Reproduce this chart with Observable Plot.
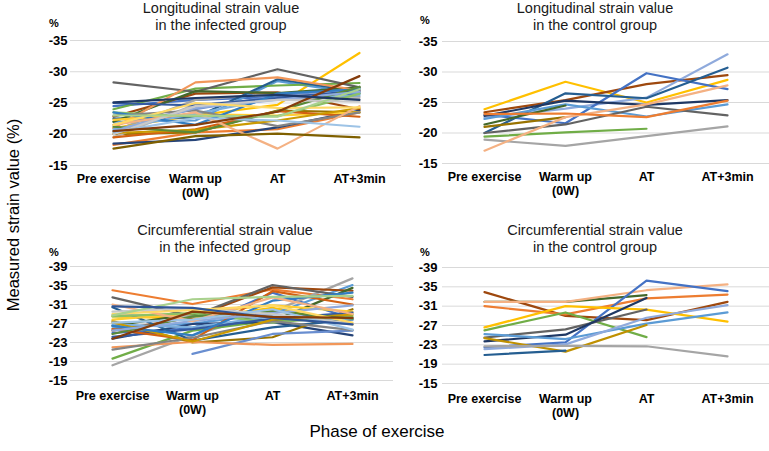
<!DOCTYPE html>
<html><head><meta charset="utf-8">
<script src="https://cdn.jsdelivr.net/npm/d3@7"></script>
<script src="https://cdn.jsdelivr.net/npm/@observablehq/plot@0.6"></script>
<style>
body{margin:0;background:#fff;font-family:"Liberation Sans",Arial,sans-serif;}
#root{position:relative;width:769px;height:451px;overflow:hidden;background:#fff;}
.title{position:absolute;font-size:14.5px;color:#1a1a1a;text-align:center;line-height:16.5px;white-space:nowrap;transform:translateX(-50%);}
.pct{position:absolute;font-size:11px;font-weight:bold;color:#000;line-height:11px;transform:translate(-50%,-50%);}
.panel{position:absolute;}
#ylab{position:absolute;left:13px;top:215px;font-size:16.5px;color:#000;white-space:nowrap;transform:translate(-50%,-50%) rotate(-90deg);}
#xlab{position:absolute;left:377px;top:432px;font-size:17px;color:#000;white-space:nowrap;transform:translate(-50%,-50%);}
</style></head><body><div id="root"></div>
<script>
const phases = ["Pre exercise", "Warm up\n(0W)", "AT", "AT+3min"];
const longTicks = [-15, -20, -25, -30, -35];
const circTicks = [-15, -19, -23, -27, -31, -35, -39];

const infectedLongColors = ["#4472C4","#ED7D31","#A5A5A5","#FFC000","#5B9BD5","#70AD47","#264478","#9E480E","#636363","#997300","#255E91","#43682B","#698ED0","#F1975A","#B7B7B7","#FFCD33","#7CAFDD","#8CC168","#335AA1","#D26012","#848484","#CC9A00","#327DC2","#5A8A39","#8FAADC","#F4B183","#C9C9C9","#FFD966","#9DC3E6","#A9D18E","#843C0C","#7F6000","#1F3864"];
const infectedLong = [
  [-24.5, -25.5, -26.0, -26.5],
  [-18.3, -20.3, -20.8, -23.5],
  [-20.5, -25.5, -26.5, -26.0],
  [-21.0, -23.0, -24.7, -33.0],
  [-22.0, -22.2, -28.5, -26.5],
  [-24.0, -27.3, -27.8, -28.2],
  [-18.5, -19.1, -21.1, -23.8],
  [-22.8, -26.5, -26.7, -24.0],
  [-28.3, -26.8, -30.4, -27.5],
  [-20.0, -20.3, -23.8, -23.5],
  [-22.5, -22.7, -28.8, -26.8],
  [-22.0, -26.9, -26.6, -27.5],
  [-21.5, -24.0, -26.2, -27.3],
  [-21.0, -28.3, -29.1, -27.0],
  [-19.5, -24.8, -25.6, -25.8],
  [-22.3, -23.2, -23.0, -23.5],
  [-20.8, -23.3, -25.8, -26.2],
  [-23.5, -22.8, -22.9, -26.5],
  [-25.0, -24.6, -25.8, -27.0],
  [-19.5, -20.8, -23.7, -22.8],
  [-23.0, -23.8, -21.3, -23.5],
  [-20.2, -20.7, -22.2, -24.2],
  [-23.5, -21.5, -26.5, -27.2],
  [-21.2, -20.3, -23.7, -27.6],
  [-20.5, -24.2, -25.5, -26.8],
  [-21.5, -23.5, -17.7, -24.5],
  [-20.0, -24.5, -25.5, -25.2],
  [-21.5, -25.0, -24.2, -24.3],
  [-20.3, -22.6, -22.2, -21.2],
  [-23.0, -23.0, -22.8, -27.2],
  [-20.5, -21.5, -23.6, -29.3],
  [-17.7, -19.7, -20.1, -19.5],
  [-25.1, -25.8, -26.3, -25.5]
];

const controlLongColors = ["#FFC000","#9E480E","#8FAADC","#4472C4","#255E91","#1F3864","#5B9BD5","#636363","#A5A5A5","#70AD47","#43682B","#997300","#F4B183","#ED7D31"];
const controlLong = [
  [-23.9, -28.4, -25.0, -28.7],
  [-23.4, -25.4, -28.0, -29.5],
  [-22.5, -24.0, -25.8, -32.9],
  [-23.0, -21.6, -29.8, -27.2],
  [-20.0, -26.5, -25.7, -30.7],
  [-22.8, -25.3, -24.6, -25.4],
  [-22.3, -24.7, -22.7, -24.7],
  [-20.0, -21.4, -24.3, -22.9],
  [-18.9, -17.9, -19.5, -21.1],
  [-19.4, -20.1, -20.7, null],
  [-21.4, -24.5, null, null],
  [-21.0, -22.6, null, null],
  [-17.1, -22.6, -24.7, -27.8],
  [-23.1, -23.2, -22.6, -25.3]
];

const infectedCircColors = ["#4472C4","#ED7D31","#A5A5A5","#FFC000","#5B9BD5","#70AD47","#264478","#9E480E","#636363","#997300","#255E91","#43682B","#698ED0","#F1975A","#B7B7B7","#FFCD33","#7CAFDD","#8CC168","#335AA1","#D26012","#848484","#CC9A00","#327DC2","#5A8A39","#8FAADC","#F4B183","#C9C9C9","#FFD966","#9DC3E6","#A9D18E","#2F5597","#843C0C"];
const infectedCirc = [
  [-25.0, -26.0, -33.5, -28.0],
  [-34.0, -31.1, -34.2, -32.1],
  [-18.2, -24.5, -29.5, -36.5],
  [-28.5, -28.0, -30.3, -26.8],
  [-26.0, -27.0, -29.0, -35.1],
  [-19.6, -25.5, -27.6, -28.3],
  [-23.8, -26.9, -27.3, -24.5],
  [-25.5, -28.3, -34.6, -33.9],
  [-32.5, -28.5, -35.1, -32.6],
  [-27.5, -23.0, -24.1, -30.0],
  [-30.4, -23.4, -26.2, -27.8],
  [-26.5, -29.0, -27.5, -34.5],
  [null, -20.6, -24.8, -25.5],
  [-22.0, -23.1, -22.5, -22.7],
  [-28.8, -28.5, -28.4, -26.8],
  [-27.8, -29.2, -30.8, -29.5],
  [-26.8, -26.2, -28.5, -27.8],
  [-28.5, -29.2, -27.2, -28.6],
  [-24.2, -25.8, -28.0, -29.3],
  [-25.8, -23.5, -33.8, -31.0],
  [-21.5, -24.0, -27.5, -25.6],
  [-27.2, -23.2, -27.8, -28.9],
  [-26.5, -24.5, -31.8, -33.5],
  [-24.8, -28.5, -29.6, -28.0],
  [-25.5, -27.5, -29.2, -30.8],
  [-31.0, -27.5, -32.5, -29.0],
  [-29.5, -30.2, -29.0, -27.0],
  [-29.0, -29.8, -30.8, -27.2],
  [-27.2, -27.8, -30.0, -25.7],
  [-28.7, -32.1, -32.6, -32.8],
  [-30.6, -30.3, -28.2, -26.8],
  [-23.8, -29.5, -28.4, -28.2]
];

const controlCircColors = ["#9E480E","#43682B","#F4B183","#ED7D31","#4472C4","#FFC000","#70AD47","#636363","#1F3864","#5B9BD5","#8FAADC","#BF9000","#A5A5A5","#255E91"];
const controlCirc = [
  [-33.9, -29.0, -28.1, -31.9],
  [-31.9, -31.9, -33.3, null],
  [-31.9, -31.9, -34.3, -35.5],
  [-31.0, -29.3, -32.6, -33.4],
  [-22.5, -23.5, -36.3, -34.1],
  [-26.6, -31.0, -30.3, -27.8],
  [-26.0, -29.7, -24.6, null],
  [-24.5, -26.2, -30.3, null],
  [-23.7, -25.1, -32.7, null],
  [-25.2, -24.2, -27.4, -29.7],
  [-22.1, -23.1, -28.6, -31.2],
  [-24.4, -21.6, -27.1, null],
  [-22.7, -22.8, -22.7, -20.6],
  [-20.9, -21.8, null, null]
];

const root = document.getElementById("root");
const FONT = "'Liberation Sans', Arial, sans-serif";

function addDiv(cls, html, left, top, id) {
  const d = document.createElement("div");
  if (cls) d.className = cls;
  if (id) d.id = id;
  d.innerHTML = html;
  if (left != null) d.style.left = left + "px";
  if (top != null) d.style.top = top + "px";
  root.appendChild(d);
  return d;
}

function panel(o) {
  const rows = [];
  o.series.forEach((vals, i) => vals.forEach((v, j) => {
    if (v != null) rows.push({s: i, phase: phases[j], v, c: o.colors[i % o.colors.length]});
  }));
  const svg = Plot.plot({
    width: o.width, height: o.height,
    marginLeft: o.mL, marginRight: o.mR, marginTop: o.mT, marginBottom: o.mB,
    style: {fontFamily: FONT, background: "transparent", overflow: "visible"},
    x: {type: "point", domain: phases, padding: 0.5, label: null},
    y: {domain: o.yDomain, label: null},
    marks: [
      Plot.gridY(o.ticks, {stroke: "#d9d9d9", strokeOpacity: 1, strokeWidth: 1}),
      Plot.axisY(o.ticks, {tickSize: 0, tickPadding: o.yPad, tickFormat: d => String(d), fontSize: 13, fontWeight: "bold", fill: "#000", label: null}),
      Plot.axisX({tickSize: 0, tickPadding: o.xPad, fontSize: 12.5, fontWeight: "bold", fill: "#000", lineHeight: 1.1, label: null}),
      Plot.line(rows, {x: "phase", y: "v", z: "s", stroke: "c", strokeWidth: 2.2})
    ]
  });
  const wrap = document.createElement("div");
  wrap.className = "panel";
  wrap.style.left = o.left + "px";
  wrap.style.top = o.top + "px";
  wrap.appendChild(svg);
  root.appendChild(wrap);
}

panel({series: infectedLong, colors: infectedLongColors, left: 0, top: 30, width: 404, height: 175, mL: 70, mR: 3, mT: 10, mB: 40, yDomain: [-15, -35], ticks: longTicks, yPad: 3, xPad: 8});
panel({series: controlLong, colors: controlLongColors, left: 404, top: 30, width: 365, height: 175, mL: 38, mR: 0, mT: 11, mB: 42, yDomain: [-15, -35], ticks: longTicks, yPad: 5, xPad: 8});
panel({series: infectedCirc, colors: infectedCircColors, left: 0, top: 255, width: 404, height: 170, mL: 70, mR: 11, mT: 11, mB: 45, yDomain: [-15, -39], ticks: circTicks, yPad: 3, xPad: 10});
panel({series: controlCirc, colors: controlCircColors, left: 404, top: 255, width: 365, height: 170, mL: 38, mR: 0, mT: 12, mB: 42, yDomain: [-15, -39], ticks: circTicks, yPad: 5, xPad: 10});

addDiv("title", "Longitudinal strain value<br>in the infected group", 221, 0);
addDiv("title", "Longitudinal strain value<br>in the control group", 595, 0);
addDiv("title", "Circumferential strain value<br>in the infected group", 225, 222);
addDiv("title", "Circumferential strain value<br>in the control group", 595, 222);
addDiv("pct", "%", 54, 23);
addDiv("pct", "%", 425, 20);
addDiv("pct", "%", 54, 252);
addDiv("pct", "%", 425, 252);
addDiv(null, "Measured strain value (%)", null, null, "ylab");
addDiv(null, "Phase of exercise", null, null, "xlab");
</script>
</body></html>
